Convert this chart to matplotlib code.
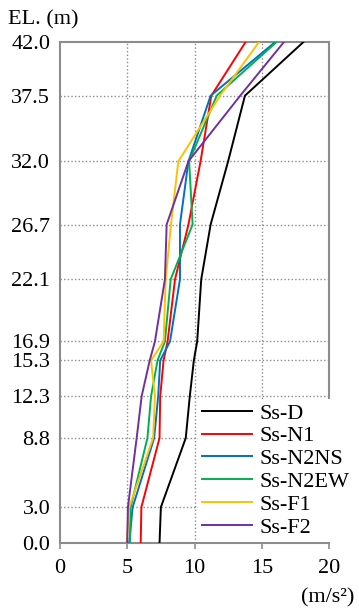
import numpy as np
import matplotlib.pyplot as plt

plt.rcParams["font.family"] = ["Liberation Serif", "DejaVu Serif"]

# elevations (m) and max acceleration (m/s^2) per ground motion
elevations = [0.0, 3.0, 8.8, 12.3, 15.3, 16.9, 22.1, 26.7, 32.0, 37.5, 42.0]
elevLabels = ["0.0", "3.0", "8.8", "12.3", "15.3", "16.9", "22.1", "26.7", "32.0", "37.5", "42.0"]

ssD = [7.4, 7.5, 9.35, 9.65, 9.95, 10.2, 10.5, 11.2, 12.5, 13.75, 18.1]
ssN1 = [6.0, 6.05, 7.4, 7.45, 7.7, 8.0, 8.55, 9.55, 10.45, 11.25, 13.8]
ssN2NS = [5.15, 5.4, 7.0, 7.3, 7.45, 8.18, 8.92, 8.92, 9.55, 11.2, 16.0]
ssN2EW = [5.2, 5.25, 6.5, 6.77, 7.25, 7.8, 8.23, 9.86, 9.6, 11.65, 16.1]
ssF1 = [4.95, 5.15, 6.92, 7.06, 6.77, 7.7, 7.86, 8.25, 8.8, 11.9, 14.8]
ssF2 = [5.0, 5.05, 5.7, 6.07, 6.67, 7.06, 7.8, 7.93, 9.55, 13.4, 16.65]

names = ["Ss-D", "Ss-N1", "Ss-N2NS", "Ss-N2EW", "Ss-F1", "Ss-F2"]
series = [ssD, ssN1, ssN2NS, ssN2EW, ssF1, ssF2]
colors = ["#000000", "#FF0000", "#0070C0", "#00B050", "#FFC000", "#7030A0"]

xTicks = [0, 5, 10, 15, 20]

fig = plt.figure(figsize=(3.59, 6.15), dpi=100)
W, H = 359, 615
ax = fig.add_axes([60 / W, (H - 543) / H, (329 - 60) / W, (543 - 42) / H])

for name, vals, color in zip(names, series, colors):
  ax.plot(vals, elevations, color=color, lw=1.4, label=name, zorder=3)

ax.set_xlim(0, 20)
ax.set_ylim(0, 42)
ax.set_xticks(xTicks)
ax.set_yticks(elevations)
ax.set_yticklabels(elevLabels)

gridColor = "#8c8c8c"
for e in elevations[1:-1]:
  ax.axhline(e, color=gridColor, lw=1.0, linestyle=(0, (1, 1.6)), zorder=1)
for x in xTicks[1:-1]:
  ax.axvline(x, color=gridColor, lw=1.0, linestyle=(0, (1, 1.6)), zorder=1)

for s in ax.spines.values():
  s.set_color(gridColor)
  s.set_linewidth(1.5)

ax.tick_params(axis="x", direction="out", length=4.3, width=1.2, color=gridColor, labelsize=16, pad=7)
ax.tick_params(axis="y", length=0, labelsize=16, pad=7)

leg = ax.legend(loc="lower left", bbox_to_anchor=((198 - 60) / 269, 1 / 501),
                fontsize=16, frameon=True, fancybox=False, handlelength=2.25,
                handletextpad=0.3, labelspacing=0.1, borderpad=0.2, borderaxespad=0)
leg.get_frame().set_facecolor("white")
leg.get_frame().set_edgecolor("none")
leg.get_frame().set_alpha(1.0)

fig.text(8 / W, 1 - 20 / H, "EL. (m)", fontsize=16, va="center", ha="left")
fig.text(354 / W, 1 - 598 / H, "(m/s²)", fontsize=16, va="center", ha="right")

plt.savefig("out.png", dpi=100)
